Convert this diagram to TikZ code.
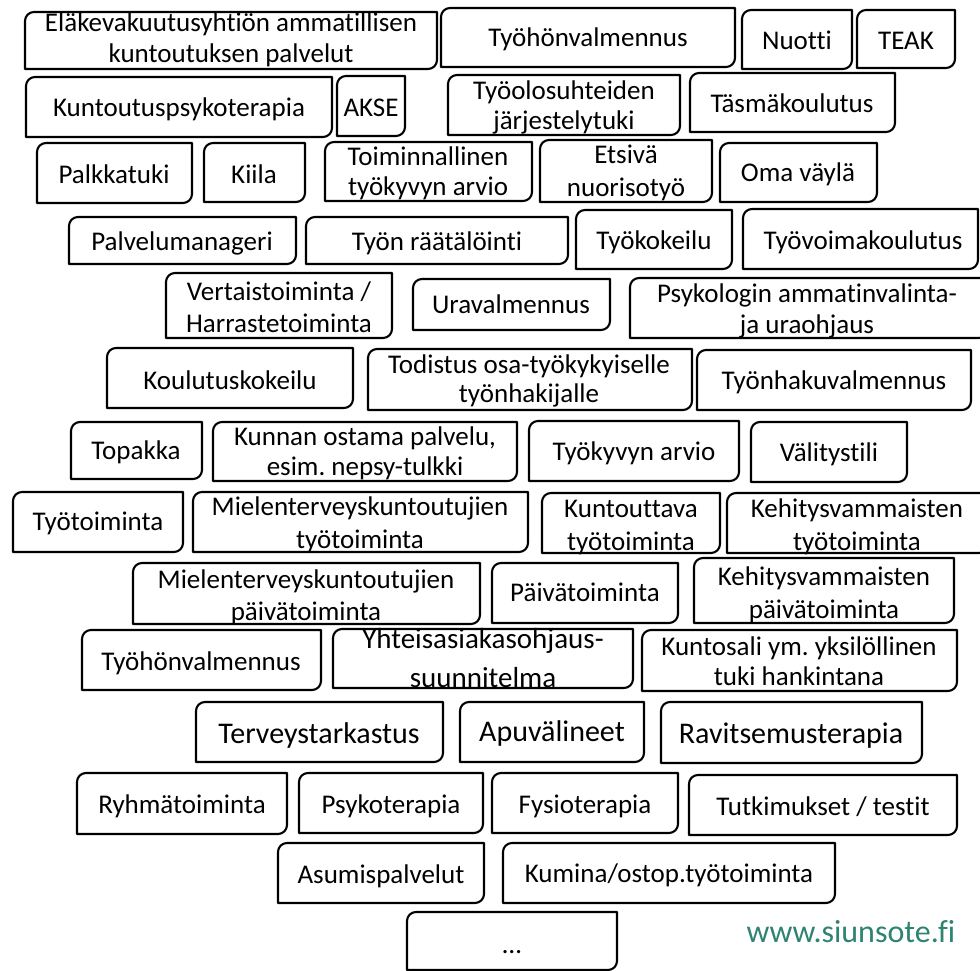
\documentclass[tikz,border=0pt]{standalone}
\usepackage{fontspec}
\setmainfont{Carlito}[Ligatures={NoCommon}]
\frenchspacing
\definecolor{siuteal}{HTML}{2E8470}
\newcommand\two[2]{\begin{tabular}[t]{@{}c@{}}#1\\#2\end{tabular}}
\newcommand\tb[4]{\draw[bline] (#1,#4) -- (#1,#2+9) .. controls (#1,#2+4) and (#1+4,#2) .. (#1+9,#2) -- (#3,#2) -- (#3,#4-9) .. controls (#3,#4-4) and (#3-4,#4) .. (#3-9,#4) -- cycle;}
\tikzset{
  bline/.style={draw=black, line width=2.1pt, line join=round},
  lbl/.style={anchor=base, inner sep=0pt, align=center, text=black, font=\fontsize{27}{31}\selectfont},
  lsp/.style={font=\fontsize{27}{#1}\selectfont},
  midtxt/.style={font=\fontsize{29}{39}\selectfont},
  bigtxt/.style={font=\fontsize{30}{36}\selectfont},
  web/.style={anchor=base, inner sep=0pt, text=siuteal, font=\fontsize{32}{38}\selectfont}
}
\begin{document}
\begin{tikzpicture}[x=1pt, y=-1pt]
\fill[white] (0,0) rectangle (980,971);
\useasboundingbox (0,0) rectangle (980,971);
\clip (0,0) rectangle (980,971);
% row 1
\tb{25}{12}{437}{69}   \node[lbl] (ela) at (231,32) {\two{Eläkevakuutusyhtiön ammatillisen}{kuntoutuksen palvelut}};
\tb{441}{8}{735}{67}   \node[lbl] (tyoval1) at (588,47) {Työhönvalmennus};
\tb{742}{10}{852}{69}  \node[lbl] (nuotti) at (797,50) {Nuotti};
\tb{857}{10}{955}{68}  \node[lbl] (teak) at (906,50) {TEAK};
% row 2
\tb{26}{77}{332}{137}  \node[lbl] (kpsy) at (179,117) {Kuntoutuspsykoterapia};
\tb{337}{76}{405}{136} \node[lbl] (akse) at (371,117) {AKSE};
\tb{448}{75}{680}{135} \node[lbl,lsp=30] (tyool) at (564,100) {\two{Työolosuhteiden}{järjestelytuki}};
\tb{690}{73}{895}{132} \node[lbl] (tasma) at (792,113) {Täsmäkoulutus};
% row 3
\tb{37}{143}{192}{203}  \node[lbl] (palkka) at (114,183) {Palkkatuki};
\tb{204}{143}{305}{202} \node[lbl] (kiila) at (254,183) {Kiila};
\tb{325}{142}{532}{201} \node[lbl,lsp=29] (toim) at (428,166) {\two{Toiminnallinen}{työkyvyn arvio}};
\tb{540}{140}{712}{202} \node[lbl,lsp=33] (etsiva) at (626,164) {\two{Etsivä}{nuorisotyö}};
\tb{720}{143}{877}{202} \node[lbl] (oma) at (798,182) {Oma väylä};
% row 4
\tb{69}{217}{296}{264}  \node[lbl] (palvm) at (182,250) {Palvelumanageri};
\tb{306}{217}{568}{264} \node[lbl] (raat) at (437,250) {Työn räätälöinti};
\tb{576}{210}{732}{269} \node[lbl] (tyokok) at (654,249) {Työkokeilu};
\tb{743}{209}{978}{269} \node[lbl] (tyovoima) at (863,249) {Työvoimakoulutus};
% row 5
\tb{166}{273}{392}{338} \node[lbl,lsp=32] (vert) at (279,300) {\two{Vertaistoiminta /}{Harrastetoiminta}};
\tb{413}{279}{610}{330} \node[lbl] (urav) at (511,313) {Uravalmennus};
\tb{630}{278}{988}{338} \node[lbl] (psyk) at (807,302) {\two{Psykologin ammatinvalinta-}{ja uraohjaus}};
% row 6
\tb{107}{348}{353}{408} \node[lbl] (koul) at (230,389) {Koulutuskokeilu};
\tb{368}{349}{692}{410} \node[lbl,lsp=29] (todistus) at (529,373) {\two{Todistus osa-työkykyiselle}{työnhakijalle}};
\tb{697}{350}{971}{410} \node[lbl] (tyonhaku) at (834,389) {Työnhakuvalmennus};
% row 7
\tb{71}{422}{202}{479}  \node[lbl] (topakka) at (136,459) {Topakka};
\tb{213}{422}{517}{481} \node[lbl,lsp=30] (kunnan) at (365,445) {\two{Kunnan ostama palvelu,}{esim. nepsy-tulkki}};
\tb{529}{421}{739}{481} \node[lbl] (tyokyky) at (634,460) {Työkyvyn arvio};
\tb{751}{422}{907}{482} \node[lbl] (valit) at (829,461) {Välitystili};
% row 8
\tb{13}{492}{183}{552}  \node[lbl] (tyotoim) at (98,530) {Työtoiminta};
\tb{193}{492}{528}{552} \node[lbl,lsp=33] (mtyo) at (360,515) {\two{Mielenterveyskuntoutujien}{työtoiminta}};
\tb{542}{493}{720}{553} \node[lbl,lsp=33] (kunto) at (631,517) {\two{Kuntouttava}{työtoiminta}};
\tb{727}{493}{988}{553} \node[lbl,lsp=33] (kehtyo) at (857,517) {\two{Kehitysvammaisten}{työtoiminta}};
% row 9
\tb{133}{563}{480}{624} \node[lbl,lsp=32] (mpaiv) at (306,588) {\two{Mielenterveyskuntoutujien}{päivätoiminta}};
\tb{492}{563}{678}{623} \node[lbl] (paiv) at (585,601) {Päivätoiminta};
\tb{694}{558}{954}{623} \node[lbl,lsp=33] (kehpaiv) at (824,585) {\two{Kehitysvammaisten}{päivätoiminta}};
% row 10
\tb{82}{630}{321}{690}  \node[lbl] (tyoval2) at (201,670) {Työhönvalmennus};
\tb{333}{629}{633}{688} \node[lbl,midtxt] (yhteis) at (483,648) {\two{Yhteisasiakasohjaus-}{suunnitelma}};
\tb{642}{630}{957}{691} \node[lbl,lsp=30] (kuntosali) at (799,655) {\two{Kuntosali ym. yksilöllinen}{tuki hankintana}};
% row 11
\tb{196}{702}{443}{762} \node[lbl,bigtxt] (terv) at (319,743) {Terveystarkastus};
\tb{460}{702}{644}{762} \node[lbl,bigtxt] (apuv) at (552,741) {Apuvälineet};
\tb{661}{702}{922}{763} \node[lbl,bigtxt] (ravit) at (791,743) {Ravitsemusterapia};
% row 12
\tb{77}{773}{287}{834}  \node[lbl] (ryhma) at (182,813) {Ryhmätoiminta};
\tb{299}{773}{483}{833} \node[lbl] (psykot) at (391,813) {Psykoterapia};
\tb{492}{773}{678}{833} \node[lbl] (fysio) at (585,813) {Fysioterapia};
\tb{689}{775}{957}{835} \node[lbl] (tutk) at (823,815) {Tutkimukset / testit};
% row 13
\tb{278}{843}{484}{903} \node[lbl] (asumis) at (381,883) {Asumispalvelut};
\tb{503}{843}{835}{903} \node[lbl] (kumina) at (669,882) {Kumina/ostop.työtoiminta};
% row 14
\tb{407}{912}{617}{970} \node[lbl] (dots) at (512,953) {…};
\node[web] (www) at (851,942) {www.siunsote.fi};
\end{tikzpicture}
\end{document}
